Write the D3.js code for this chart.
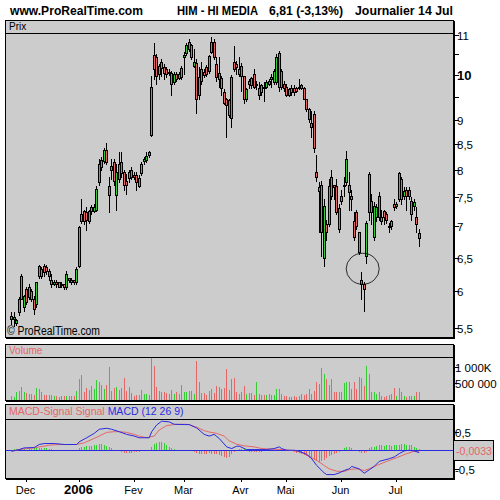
<!DOCTYPE html>
<html><head><meta charset="utf-8">
<script src="https://cdn.jsdelivr.net/npm/d3@7/dist/d3.min.js"></script>
<style>body{margin:0;background:#fff}svg{display:block}text{font-family:"Liberation Sans",Arial,sans-serif}</style>
</head><body><svg id="c" width="500" height="500"></svg>
<script>
// ---------- DATA ----------
const firstDay = "2005-11-23", lastDay = "2006-07-14";
const holidays = ["2005-12-26","2006-04-14","2006-04-17","2006-05-01"];
const monthStarts = ["2005-12","2006-01","2006-02","2006-03","2006-04","2006-05","2006-06","2006-07"];
const monthLabels = ["Dec","2006","Fev","Mar","Avr","Mai","Jun","Jul"];

const open = [5.62,5.62,5.57,5.71,6.22,5.78,6.03,5.92,6.00,5.89,
5.82,6.37,6.23,6.37,6.35,6.29,6.10,6.11,6.14,6.13,
6.11,6.10,6.07,6.19,6.17,6.16,6.14,6.37,7.20,7.25,
7.23,7.25,7.25,7.26,7.28,7.76,8.18,8.16,8.37,7.53,
8.00,8.14,7.53,8.10,8.14,7.96,7.78,7.84,7.86,7.89,
7.89,7.69,7.93,8.16,8.18,8.33,8.69,10.48,10.43,10.02,
10.31,10.19,10.14,10.07,10.04,9.83,10.02,9.92,9.95,10.43,
10.53,10.80,10.73,10.21,10.28,9.55,10.14,10.07,10.19,10.09,
10.55,10.80,10.26,10.04,9.92,9.60,9.44,9.42,9.03,10.31,
10.26,10.02,10.21,9.97,9.44,9.78,9.76,10.02,9.76,9.71,
9.60,9.73,9.73,9.78,9.95,9.83,9.83,10.53,10.09,9.78,
9.73,9.53,9.71,9.69,9.69,9.69,9.76,9.69,9.44,9.22,
8.84,9.13,7.95,7.67,7.72,6.50,7.03,7.03,7.87,7.71,
7.69,6.95,7.51,7.69,7.76,7.72,7.51,7.08,7.23,6.90,
6.10,6.11,6.52,7.91,7.42,6.83,7.16,7.51,7.15,7.25,
7.20,7.01,7.00,7.37,7.34,7.46,7.82,7.51,7.63,7.63,
7.42,7.34,7.16,6.88];
const high = [5.71,5.72,5.62,5.92,6.25,5.95,6.06,6.10,6.03,5.93,
6.14,6.38,6.35,6.40,6.38,6.32,6.25,6.17,6.16,6.14,
6.13,6.11,6.29,6.20,6.19,6.17,6.35,7.01,7.46,7.28,
7.32,7.28,7.35,7.37,7.69,8.20,8.24,8.41,8.51,7.87,
8.20,8.20,8.10,8.33,8.33,8.00,7.91,8.00,8.04,7.95,
7.96,7.89,8.14,8.24,8.33,8.35,9.97,10.78,10.50,10.26,
10.38,10.26,10.19,10.14,10.09,10.07,10.07,10.07,10.21,10.55,
10.78,10.88,10.75,10.63,10.38,10.19,10.31,10.14,10.24,10.48,
10.93,10.88,10.43,10.43,9.97,9.67,9.48,9.46,9.99,10.70,
10.33,10.43,10.28,9.97,9.71,9.90,9.95,10.14,9.85,9.83,
9.78,9.83,9.88,9.90,10.02,10.14,10.50,10.58,10.14,9.85,
9.78,9.71,9.76,9.76,9.73,9.90,9.80,9.73,9.44,9.26,
9.18,9.18,8.29,7.76,7.78,7.46,7.11,7.82,8.00,7.72,
7.82,7.37,7.63,7.87,8.35,7.95,7.63,7.23,7.28,6.91,
6.28,6.14,7.08,7.95,7.55,7.41,7.37,7.58,7.28,7.28,
7.23,7.06,7.11,7.46,7.41,7.95,7.86,7.67,7.67,7.67,
7.49,7.46,7.32,6.96];
const low = [5.56,5.53,5.54,5.67,5.89,5.73,5.82,5.89,5.86,5.69,
5.79,6.20,6.20,6.22,6.25,6.17,6.06,6.09,6.07,6.06,
6.06,6.03,6.04,6.13,6.11,6.10,6.11,6.35,7.05,7.03,
6.93,7.05,7.21,7.23,7.25,7.72,8.00,8.12,8.10,7.23,
7.82,7.71,7.28,7.76,7.86,7.63,7.55,7.76,7.82,7.82,
7.63,7.67,7.89,8.10,8.14,8.25,8.67,9.90,9.78,9.90,
9.97,9.90,9.95,9.99,9.55,9.78,9.85,9.90,9.90,10.02,
10.48,10.58,10.38,10.19,9.15,9.44,9.78,9.95,9.97,10.04,
10.53,10.38,9.85,9.73,9.55,9.33,8.63,9.05,8.84,10.09,
10.02,9.97,9.64,9.37,9.40,9.71,9.71,9.71,9.67,9.44,
9.55,9.40,9.71,9.76,9.73,9.78,9.78,9.62,9.67,9.62,
9.51,9.51,9.55,9.55,9.60,9.67,9.67,9.44,9.18,8.96,
8.65,8.33,7.78,6.91,6.52,6.37,6.78,7.00,7.46,7.46,
7.20,6.91,7.37,7.51,7.72,7.28,7.28,6.78,6.95,6.55,
5.89,5.73,6.42,7.11,7.03,6.78,7.08,7.11,7.03,7.03,
7.05,6.90,6.96,7.28,7.30,7.42,7.37,7.46,7.28,7.46,
7.11,7.28,6.91,6.68];
const close = [5.66,5.65,5.61,5.89,5.90,5.93,5.85,6.07,5.89,5.75,
6.13,6.22,6.32,6.28,6.29,6.23,6.17,6.13,6.10,6.07,
6.09,6.06,6.25,6.16,6.14,6.13,6.32,6.98,7.08,7.08,
7.11,7.08,7.32,7.33,7.65,8.10,8.04,8.37,8.14,7.69,
8.06,7.78,7.96,7.82,7.93,7.72,7.72,7.96,8.00,7.86,
7.76,7.84,8.10,8.20,8.27,8.29,9.73,10.14,9.97,10.21,
10.16,10.04,10.02,10.04,9.78,10.02,9.90,10.02,10.16,10.48,
10.73,10.63,10.43,10.31,9.46,9.95,9.85,9.99,10.02,10.45,
10.80,10.43,9.95,9.90,9.71,9.37,9.31,9.11,9.95,10.14,
10.19,10.14,9.97,9.44,9.67,9.85,9.92,9.73,9.80,9.53,
9.76,9.69,9.83,9.85,9.90,10.09,10.43,9.73,9.73,9.71,
9.55,9.67,9.60,9.60,9.64,9.73,9.69,9.46,9.22,9.01,
8.94,8.41,7.87,7.61,6.90,7.34,6.91,7.69,7.51,7.67,
7.23,7.31,7.42,7.72,8.20,7.58,7.46,6.83,7.00,6.58,
6.17,6.04,7.06,7.23,7.23,7.34,7.32,7.16,7.08,7.15,
7.10,6.98,7.08,7.32,7.37,7.93,7.46,7.60,7.51,7.51,
7.20,7.41,7.03,6.81];
const volume = [103,82,239,260,395,239,207,166,166,134,
364,322,218,134,134,134,134,113,103,82,
113,103,103,103,103,103,260,634,759,239,
364,291,426,322,603,551,447,322,447,1009,
260,343,395,291,343,676,260,374,187,113,
134,134,291,166,166,134,1322,1041,374,260,
239,218,187,166,291,166,239,166,447,239,
239,260,260,166,1207,551,207,207,134,260,
322,187,416,374,322,343,947,291,634,676,
239,166,239,426,166,187,187,134,551,166,
134,134,134,166,134,134,322,322,166,113,
113,82,82,113,82,113,166,134,166,322,
166,260,530,478,988,791,634,447,634,239,
239,239,239,499,551,530,322,530,322,707,
676,416,1041,791,239,239,166,239,113,72,
113,134,155,364,113,364,239,113,82,103,
103,113,239,239].map(v => v * 1000);

const macdDay = [0,3,5,9,11,13,17,21,26,27,30,33,35,38,40,43,46,49,51,55,56,58,60,63,65,69,71,74,77,79,81,83,86,88,90,91,94,97,99,102,105,107,108,110,113,115,118,120,122,125,126,129,131,133,135,136,139,141,143,145,147,151,153,155,157,159,161,163];
const macdVal = [-0.027,0.018,0.063,0.072,0.153,0.18,0.18,0.153,0.153,0.225,0.333,0.45,0.559,0.586,0.559,0.495,0.423,0.378,0.333,0.333,0.495,0.676,0.775,0.757,0.694,0.685,0.685,0.595,0.423,0.378,0.423,0.315,0.09,0.045,0.108,0.108,0.018,0.018,0.018,0.018,0.045,0.09,0.045,0,0,-0.027,-0.108,-0.225,-0.405,-0.604,-0.649,-0.649,-0.604,-0.54,-0.495,-0.432,-0.495,-0.613,-0.523,-0.432,-0.297,-0.225,-0.18,-0.09,-0.018,0,-0.018,-0.063];
const signalDay = [0,3,6,9,11,15,19,22,26,29,33,35,38,41,43,46,49,51,54,57,59,62,65,69,71,74,77,79,82,85,87,90,93,97,100,105,109,111,114,117,119,122,125,127,130,133,135,138,141,143,146,150,154,158,161,163];
const signalVal = [-0.027,0.018,0.045,0.063,0.09,0.135,0.153,0.153,0.153,0.198,0.315,0.378,0.477,0.495,0.495,0.477,0.423,0.378,0.333,0.378,0.54,0.658,0.685,0.694,0.685,0.613,0.523,0.486,0.45,0.378,0.252,0.162,0.117,0.09,0.045,0.027,0.018,0,-0.018,-0.09,-0.162,-0.27,-0.405,-0.495,-0.559,-0.568,-0.514,-0.495,-0.54,-0.495,-0.405,-0.297,-0.198,-0.09,-0.027,-0.045];
const histogram = [0.02,0.03,0.03,0.04,0.04,0.03,0.02,0.03,0.04,0.05,
0.06,0.07,0.07,0.06,0.05,0.04,0.03,0.02,0.01,-0.01,
-0.02,-0.02,-0.03,-0.03,-0.02,-0.02,-0.01,0.05,0.08,0.10,
0.11,0.12,0.12,0.13,0.15,0.17,0.18,0.15,0.12,0.08,
0.05,0.02,-0.01,-0.03,-0.05,-0.06,-0.06,-0.07,-0.06,-0.05,
-0.04,-0.04,-0.03,-0.02,-0.01,-0.01,0.10,0.16,0.20,0.23,
0.22,0.19,0.15,0.10,0.06,0.03,0.01,-0.02,-0.03,-0.02,
-0.01,0.01,0.01,-0.04,-0.08,-0.10,-0.11,-0.10,-0.09,-0.08,
-0.09,-0.10,-0.11,-0.13,-0.15,-0.18,-0.20,-0.17,-0.10,-0.04,
0.02,0.04,0.04,0.03,-0.02,-0.04,-0.05,-0.05,-0.04,-0.04,
-0.04,-0.03,-0.03,-0.02,-0.02,0.01,0.02,0.02,0.01,0.01,
-0.01,-0.02,-0.03,-0.04,-0.06,-0.08,-0.10,-0.13,-0.16,-0.20,
-0.23,-0.26,-0.28,-0.30,-0.29,-0.25,-0.20,-0.16,-0.12,-0.09,
-0.06,-0.04,-0.02,0.05,0.08,0.08,0.06,-0.02,-0.03,-0.05,
-0.07,-0.08,-0.04,0.05,0.08,0.10,0.12,0.13,0.13,0.12,
0.13,0.13,0.12,0.13,0.14,0.15,0.16,0.16,0.15,0.15,
0.13,0.10,0.06,0.03];

const priceTicks = [11,10,9,8.5,8,7.5,7,6.5,6,5.5];
const priceTickLabels = ["11","10","9","8,5","8","7,5","7","6,5","6","5,5"];
const priceMinorTicks = [10.5,9.5];
const volumeTicks = [1000000,500000];
const volumeTickLabels = ["1 000K","500 000"];
const macdTicks = [0.5,-0.5];
const macdTickLabels = ["0,5","-0,5"];
const lastHistLabel = "-0,0033";
const title = {site:"www.ProRealTime.com", name:"HIM - HI MEDIA", quote:"6,81 (-3,13%)", period:"Journalier  14 Jul"};

// ---------- HELPERS ----------
function tradingDays(a, b, hol) {
  const out = []; const d = new Date(a + "T00:00:00Z"); const e = new Date(b + "T00:00:00Z");
  while (d <= e) { const wd = d.getUTCDay(); const s = d.toISOString().slice(0,10);
    if (wd !== 0 && wd !== 6 && !hol.includes(s)) out.push(s); d.setUTCDate(d.getUTCDate() + 1); }
  return out;
}
const days = tradingDays(firstDay, lastDay, holidays);
const N = days.length;

// ---------- LAYOUT ----------
const L = 5, R = 453;
const P = {top:20, head:33, bot:337};
const V = {top:344, head:357, bot:400};
const M = {top:404, head:419, bot:478};
const GREEN = "#33cc33", RED = "#e66666", PANEL = "#cccccc", BLUE = "#2a2ae0", SALMON = "#e66666";

const svg = d3.select("#c");
const x = d3.scaleLinear().domain([0, N - 1]).range([11.7, 11.7 + 2.5 * (N - 1)]);
const px = i => Math.floor(x(i));
const yP = d3.scaleLog().domain([5.5, 11]).range([328.3, 34.7]);
const yV = d3.scaleLinear().domain([0, 1000000]).range([399.3, 367.3]);
const yM = d3.scaleLinear().domain([-0.5, 0.5]).range([469, 431.5]);

function panel(p, label) {
  svg.append("rect").attr("x", L + 0.5).attr("y", p.top + 0.5).attr("width", R - L).attr("height", p.bot - p.top)
    .attr("fill", PANEL).attr("stroke", "#000").attr("stroke-width", 1);
  svg.append("line").attr("x1", L).attr("x2", R + 1).attr("y1", p.head + 0.5).attr("y2", p.head + 0.5).attr("stroke", "#000");
  svg.append("line").attr("x1", R + 1.5).attr("x2", R + 1.5).attr("y1", p.top + 1).attr("y2", p.bot + 2).attr("stroke", "#000");
  svg.append("line").attr("x1", L + 1).attr("x2", R + 2).attr("y1", p.bot + 1.5).attr("y2", p.bot + 1.5).attr("stroke", "#000");
  svg.append("clipPath").attr("id", label).append("rect").attr("x", L + 1).attr("y", p.head + 1).attr("width", R - L - 1).attr("height", p.bot - p.head - 1);
}
svg.attr("shape-rendering", "crispEdges");
panel(P, "cp"); panel(V, "cv"); panel(M, "cm");

// ---------- TITLE ----------
const tt = svg.append("g").attr("font-weight", "bold").attr("font-size", 12).attr("fill", "#000");
[[title.site, 10, 133], [title.name, 177, 81], [title.quote, 269, 74], [title.period, 355, 98]].forEach(([s, xx, w]) =>
  tt.append("text").attr("x", xx).attr("y", 14.5).attr("textLength", w).attr("lengthAdjust", "spacingAndGlyphs").text(s));
svg.append("text").attr("x", 9).attr("y", 30).attr("font-size", 10).text("Prix");

// ---------- PRICE ----------
const cand = d3.range(N).map(i => ({i, o: open[i], h: high[i], l: low[i], c: close[i]}));
const gP = svg.append("g").attr("clip-path", "url(#cp)");
gP.selectAll("line.w").data(cand).join("line").attr("class", "w")
  .attr("x1", d => px(d.i) + 0.5).attr("x2", d => px(d.i) + 0.5)
  .attr("y1", d => Math.round(yP(d.h))).attr("y2", d => Math.round(yP(d.l)) + 1)
  .attr("stroke", "#000");
gP.selectAll("rect.b").data(cand).join("rect").attr("class", "b")
  .attr("x", d => px(d.i) - 0.5)
  .attr("y", d => Math.round(yP(Math.max(d.o, d.c))) + 0.5)
  .attr("width", 2)
  .attr("height", d => Math.max(1, Math.round(yP(Math.min(d.o, d.c))) - Math.round(yP(Math.max(d.o, d.c)))))
  .attr("fill", d => d.c >= d.o ? GREEN : RED).attr("stroke", "#000");
gP.append("ellipse").attr("cx", x(140.4)).attr("cy", yP(6.33)).attr("rx", 16.5).attr("ry", 15.5)
  .attr("fill", "none").attr("stroke", "#000").attr("stroke-width", 0.8).attr("shape-rendering", "auto");
svg.append("text").attr("x", 7).attr("y", 335).attr("font-size", 12).attr("textLength", 93).attr("lengthAdjust", "spacingAndGlyphs").text("© ProRealTime.com");

// price axis
const ax = svg.append("g");
priceTicks.forEach((t, k) => {
  const yy = Math.round(yP(t)) + 0.5;
  ax.append("line").attr("x1", R + 1).attr("x2", R + 6).attr("y1", yy).attr("y2", yy).attr("stroke", "#000");
  ax.append("text").attr("x", R + 4).attr("y", yy + 4.5).attr("font-size", t === 10 ? 13 : 11.5)
    .attr("font-weight", t === 10 ? "bold" : "normal").text(priceTickLabels[k]);
});
priceMinorTicks.forEach(t => {
  const yy = Math.round(yP(t)) + 0.5;
  ax.append("line").attr("x1", R + 1).attr("x2", R + 6).attr("y1", yy).attr("y2", yy).attr("stroke", "#000");
});

// ---------- VOLUME ----------
svg.append("text").attr("x", 9).attr("y", 354).attr("font-size", 10).attr("fill", SALMON).text("Volume");
const gV = svg.append("g").attr("clip-path", "url(#cv)");
gV.selectAll("line").data(cand).join("line")
  .attr("x1", d => px(d.i) + 0.5).attr("x2", d => px(d.i) + 0.5)
  .attr("y1", d => Math.round(yV(volume[d.i]))).attr("y2", V.bot)
  .attr("stroke", d => d.c >= d.o ? GREEN : RED);
volumeTicks.forEach((t, k) => {
  const yy = Math.round(yV(t)) + 0.5;
  ax.append("line").attr("x1", R + 1).attr("x2", R + 6).attr("y1", yy).attr("y2", yy).attr("stroke", "#000");
  ax.append("text").attr("x", R + 2).attr("y", yy + 4.5).attr("font-size", 11.5).text(volumeTickLabels[k]);
});

// ---------- MACD ----------
const mh = svg.append("text").attr("x", 9).attr("y", 415).attr("font-size", 10.5);
mh.append("tspan").attr("fill", SALMON).text("MACD-Signal Signal ");
mh.append("tspan").attr("fill", BLUE).text("MACD (12 26 9)");
const gM = svg.append("g").attr("clip-path", "url(#cm)");
const y0 = Math.round(yM(0));
gM.selectAll("line.h").data(histogram).join("line").attr("class", "h")
  .attr("x1", (d, i) => px(i) + 0.5).attr("x2", (d, i) => px(i) + 0.5)
  .attr("y1", y0).attr("y2", d => Math.round(yM(d)))
  .attr("stroke", d => d >= 0 ? GREEN : RED);
gM.append("line").attr("x1", L + 1).attr("x2", R).attr("y1", y0 + 0.5).attr("y2", y0 + 0.5).attr("stroke", BLUE);
const lineGen = d3.line().x(d => x(d[0])).y(d => yM(d[1]));
gM.append("path").attr("d", lineGen(signalDay.map((d, k) => [d, signalVal[k]])))
  .attr("fill", "none").attr("stroke", SALMON).attr("stroke-width", 1).attr("shape-rendering", "auto");
gM.append("path").attr("d", lineGen(macdDay.map((d, k) => [d, macdVal[k]])))
  .attr("fill", "none").attr("stroke", BLUE).attr("stroke-width", 1).attr("shape-rendering", "auto");
macdTicks.forEach((t, k) => {
  const yy = Math.round(yM(t)) + 0.5;
  ax.append("line").attr("x1", R + 1).attr("x2", R + 6).attr("y1", yy).attr("y2", yy).attr("stroke", "#000");
  ax.append("text").attr("x", R + 2).attr("y", yy + 4.5).attr("font-size", 11.5).text(macdTickLabels[k]);
});
ax.append("rect").attr("x", R + 0.5).attr("y", 440.5).attr("width", 40).attr("height", 20)
  .attr("fill", PANEL).attr("stroke", "#000");
ax.append("text").attr("x", R + 3).attr("y", 455).attr("font-size", 11.5).attr("fill", SALMON)
  .attr("textLength", 36).attr("lengthAdjust", "spacingAndGlyphs").text(lastHistLabel);

// ---------- X AXIS ----------
monthStarts.forEach((m, k) => {
  const i = days.findIndex(d => d.startsWith(m));
  const xx = px(i) + 0.5;
  svg.append("line").attr("x1", xx).attr("x2", xx).attr("y1", M.bot + 1).attr("y2", M.bot + 4).attr("stroke", "#000");
  svg.append("text").attr("x", xx - 1).attr("y", 494).attr("text-anchor", "middle")
    .attr("font-size", k === 1 ? 13 : 11).attr("font-weight", k === 1 ? "bold" : "normal").text(monthLabels[k]);
});
</script></body></html>
